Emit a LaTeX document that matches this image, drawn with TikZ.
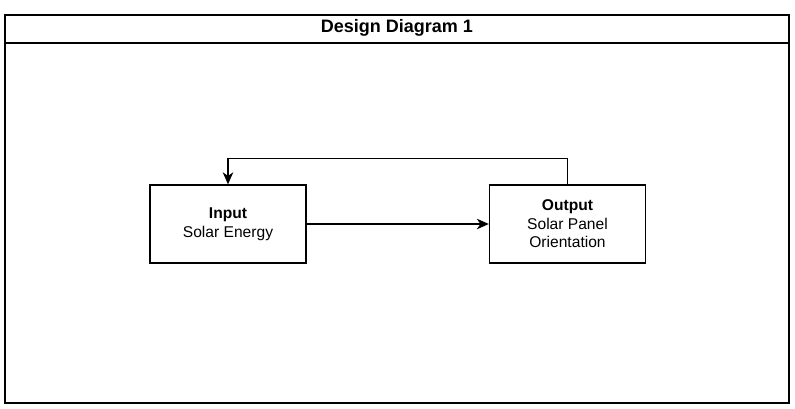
\documentclass[tikz,border=0pt]{standalone}
\usepackage{fontspec}
\setmainfont{Liberation Sans}
\usetikzlibrary{arrows.meta}
\begin{document}
\begin{tikzpicture}[x=1pt,y=-1pt,
  blockbox/.style={draw, line width=1.3pt, minimum width=156pt, minimum height=78pt, inner sep=0pt, align=center, font=\fontsize{15.6}{18.5}\selectfont},
  conn/.style={line width=1.3pt, -{Stealth[length=12pt,width=10.5pt,inset=3.5pt]}},
  framestyle/.style={draw, line width=2pt}
]
\useasboundingbox (0,0) rectangle (795,408);
\draw[framestyle] (5,15) rectangle (789,403);
\draw[framestyle] (5,43) -- (789,43);
\node[font=\bfseries\fontsize{18}{20}\selectfont] (title) at (397,27.5) {Design Diagram 1};
\node[blockbox] (input) at (228,224) {\textbf{Input}\\Solar Energy};
\node[blockbox] (output) at (567.5,224) {\textbf{Output}\\Solar Panel\\Orientation};
\draw[conn] (input.east) -- (output.west);
\draw[conn] (output.north) |- ++(0,-26) -| (input.north);
\end{tikzpicture}
\end{document}
